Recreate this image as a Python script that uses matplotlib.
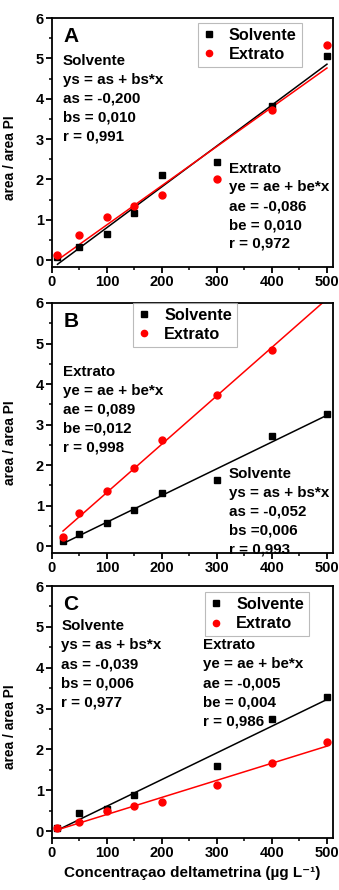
import numpy as np
import matplotlib
matplotlib.use('Agg')
import matplotlib.pyplot as plt
from matplotlib.ticker import MultipleLocator

plt.rcParams['font.family'] = ['Liberation Sans', 'DejaVu Sans']
plt.rcParams['font.weight'] = 'bold'

# panel A
xa_s = [10, 50, 100, 150, 200, 300, 400, 500]
ya_s = [0.08, 0.33, 0.65, 1.18, 2.12, 2.43, 3.82, 5.06]
xa_e = [10, 50, 100, 150, 200, 300, 400, 500]
ya_e = [0.12, 0.63, 1.08, 1.33, 1.62, 2.02, 3.72, 5.33]
# panel B
xb_s = [20, 50, 100, 150, 200, 300, 400, 500]
yb_s = [0.12, 0.29, 0.57, 0.90, 1.31, 1.63, 2.72, 3.26]
xb_e = [20, 50, 100, 150, 200, 300, 400]
yb_e = [0.22, 0.81, 1.35, 1.93, 2.61, 3.74, 4.83]
# panel C
xc_s = [10, 50, 100, 150, 300, 400, 500]
yc_s = [0.07, 0.43, 0.55, 0.88, 1.60, 2.75, 3.28]
xc_e = [10, 50, 100, 150, 200, 300, 400, 500]
yc_e = [0.07, 0.21, 0.49, 0.62, 0.70, 1.13, 1.67, 2.17]

txt_a_s = ['Solvente', 'ys = as + bs*x', 'as = -0,200', 'bs = 0,010', 'r = 0,991']
txt_a_e = ['Extrato', 'ye = ae + be*x', 'ae = -0,086', 'be = 0,010', 'r = 0,972']
txt_b_e = ['Extrato', 'ye = ae + be*x', 'ae = 0,089', 'be =0,012', 'r = 0,998']
txt_b_s = ['Solvente', 'ys = as + bs*x', 'as = -0,052', 'bs =0,006', 'r = 0,993']
txt_c_s = ['Solvente', 'ys = as + bs*x', 'as = -0,039', 'bs = 0,006', 'r = 0,977']
txt_c_e = ['Extrato', 'ye = ae + be*x', 'ae = -0,005', 'be = 0,004', 'r = 0,986']

W, H = 339, 890
fig = plt.figure(figsize=(W/100, H/100), dpi=100)

def px_axes(left, top, right, bottom):
	return fig.add_axes([left/W, 1-bottom/H, (right-left)/W, (bottom-top)/H])

def fitline(ax, x, y, color, xmax=None):
	b, a = np.polyfit(x, y, 1)
	xx = np.array([x[0], xmax if xmax else x[-1]])
	ax.plot(xx, a + b*xx, color=color, lw=1.1, zorder=2)

def block(ax, x, y, lines):
	for i, s in enumerate(lines):
		ax.text(x, y - i*0.467, s, fontsize=10.9, fontweight='bold', va='center', ha='left')

def panel(ax, letter, xs, ys, xe, ye, legloc):
	ax.plot(xs, ys, 's', color='black', ms=4.6, label='Solvente', zorder=3)
	ax.plot(xe, ye, 'o', color='red', ms=5.0, label='Extrato', zorder=3)
	ax.set_xlim(0, 511)
	ax.set_ylim(-0.17, 6)
	ax.xaxis.set_major_locator(MultipleLocator(100))
	ax.xaxis.set_minor_locator(MultipleLocator(50))
	ax.yaxis.set_major_locator(MultipleLocator(1))
	ax.yaxis.set_minor_locator(MultipleLocator(0.5))
	ax.tick_params(which='major', direction='out', length=4, width=1.3, labelsize=10.5, pad=2)
	ax.tick_params(which='minor', direction='out', length=2.5, width=1.1)
	for sp in ax.spines.values():
		sp.set_linewidth(1.3)
	for lab in ax.get_xticklabels() + ax.get_yticklabels():
		lab.set_fontweight('bold')
	ax.set_ylabel('area / area PI', fontsize=9.9, fontweight='bold')
	ax.yaxis.set_label_coords(-0.125, 0.44)
	ax.text(0.04, 0.965, letter, transform=ax.transAxes, fontsize=15, fontweight='bold', va='top')
	leg = ax.legend(loc='upper left', bbox_to_anchor=legloc, fontsize=11.7, frameon=True,
		fancybox=False, edgecolor='#aaaaaa', handlelength=0.7, handletextpad=0.9,
		borderpad=0.3, labelspacing=0.25, borderaxespad=0, markerscale=0.9)
	leg.get_frame().set_linewidth(0.8)
	for t in leg.get_texts():
		t.set_fontweight('bold')

axA = px_axes(52, 18, 333, 267)
panel(axA, 'A', xa_s, ya_s, xa_e, ya_e, (0.52, 0.98))
fitline(axA, xa_s, ya_s, 'black')
fitline(axA, xa_e, ya_e, 'red')
block(axA, 20, 4.93, txt_a_s)
block(axA, 322, 2.27, txt_a_e)

axB = px_axes(52, 303, 333, 553)
panel(axB, 'B', xb_s, yb_s, xb_e, yb_e, (0.29, 1.0))
fitline(axB, xb_s, yb_s, 'black')
fitline(axB, xb_e, yb_e, 'red', xmax=500)
block(axB, 20, 4.3, txt_b_e)
block(axB, 322, 1.79, txt_b_s)

axC = px_axes(52, 586, 333, 838)
panel(axC, 'C', xc_s, yc_s, xc_e, yc_e, (0.545, 0.975))
fitline(axC, xc_s, yc_s, 'black')
fitline(axC, xc_e, yc_e, 'red')
block(axC, 17, 5.02, txt_c_s)
block(axC, 275, 4.55, txt_c_e)
axC.set_xlabel('Concentraçao deltametrina (µg L⁻¹)', fontsize=11, fontweight='bold', labelpad=4)

fig.savefig('out.png', dpi=100)
